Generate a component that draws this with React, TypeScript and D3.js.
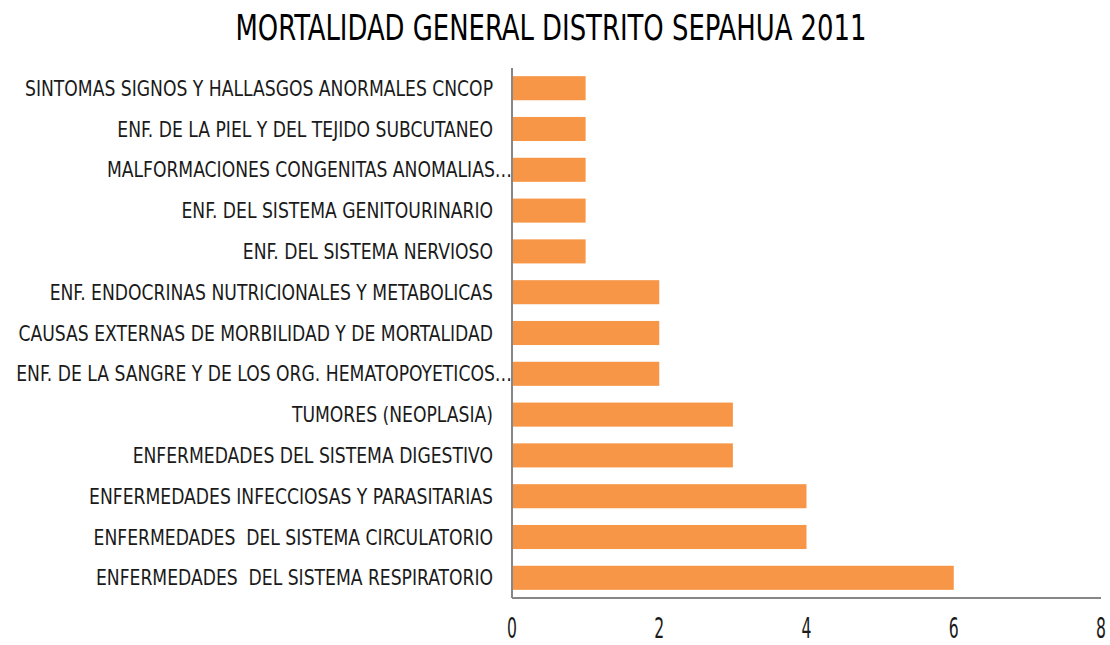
import React, { useEffect, useRef } from 'react';
import * as d3 from 'd3';

const title = 'MORTALIDAD GENERAL DISTRITO SEPAHUA 2011';

// top to bottom, as shown
const categories = [
  'SINTOMAS SIGNOS Y HALLASGOS ANORMALES CNCOP',
  'ENF. DE LA PIEL Y DEL TEJIDO SUBCUTANEO',
  'MALFORMACIONES CONGENITAS ANOMALIAS…',
  'ENF. DEL SISTEMA GENITOURINARIO',
  'ENF. DEL SISTEMA NERVIOSO',
  'ENF. ENDOCRINAS NUTRICIONALES Y METABOLICAS',
  'CAUSAS EXTERNAS DE MORBILIDAD Y DE MORTALIDAD',
  'ENF. DE LA SANGRE Y DE LOS ORG. HEMATOPOYETICOS…',
  'TUMORES (NEOPLASIA)',
  'ENFERMEDADES DEL SISTEMA DIGESTIVO',
  'ENFERMEDADES INFECCIOSAS Y PARASITARIAS',
  'ENFERMEDADES  DEL SISTEMA CIRCULATORIO',
  'ENFERMEDADES  DEL SISTEMA RESPIRATORIO',
];
const deaths = [1, 1, 1, 1, 1, 2, 2, 2, 3, 3, 4, 4, 6];
const xTicks = [0, 2, 4, 6, 8];

// no narrow face installed, so squeeze a condensed one horizontally
const FONT = '"DejaVu Sans Condensed", "DejaVu Sans", sans-serif';

export default function App() {
  const ref = useRef<SVGSVGElement>(null);

  useEffect(() => {
    if (!ref.current) return;
    const svg = d3.select(ref.current);
    svg.selectAll('*').remove();

    const left = 512, right = 1101, top = 68, bottom = 598;

    const x = d3.scaleLinear().domain([0, 8]).range([left, right]);
    const y = d3.scaleBand().domain(categories).range([top, bottom]).paddingInner(0.41).paddingOuter(0.2);

    svg.append('text')
      .attr('transform', 'translate(551,40) scale(0.8,1)')
      .attr('text-anchor', 'middle')
      .style('font-family', FONT).style('font-size', '36px').attr('fill', '#000')
      .text(title);

    svg.selectAll('rect.bar')
      .data(categories)
      .enter().append('rect')
      .attr('class', 'bar')
      .attr('x', x(0))
      .attr('y', d => y(d) as number)
      .attr('width', (_, i) => x(deaths[i]) - x(0))
      .attr('height', y.bandwidth())
      .attr('fill', '#F79646');

    svg.selectAll('text.cat')
      .data(categories)
      .enter().append('text')
      .attr('class', 'cat')
      .attr('transform', d => `translate(${d.endsWith('…') ? 512 : 493},${(y(d) as number) + y.bandwidth() / 2}) scale(0.91,1)`)
      .attr('dy', '0.36em')
      .attr('text-anchor', 'end')
      .style('white-space', 'pre')
      .style('font-family', FONT).style('font-size', '21px').attr('fill', '#1a1a1a')
      .text(d => d);

    svg.selectAll('text.tick')
      .data(xTicks)
      .enter().append('text')
      .attr('class', 'tick')
      .attr('transform', d => `translate(${x(d)},638) scale(0.62,1)`)
      .attr('text-anchor', 'middle')
      .style('font-family', FONT).style('font-size', '28px').attr('fill', '#1a1a1a')
      .text(d => d);

    svg.append('line')
      .attr('x1', left).attr('x2', left).attr('y1', top).attr('y2', bottom)
      .attr('stroke', '#868686').attr('stroke-width', 2);
    svg.append('line')
      .attr('x1', left).attr('x2', right).attr('y1', bottom).attr('y2', bottom)
      .attr('stroke', '#868686').attr('stroke-width', 2);
  }, []);

  return (
    <svg ref={ref} width={1110} height={645}
      style={{ position: 'absolute', left: 0, top: 0, background: '#fff' }} />
  );
}
